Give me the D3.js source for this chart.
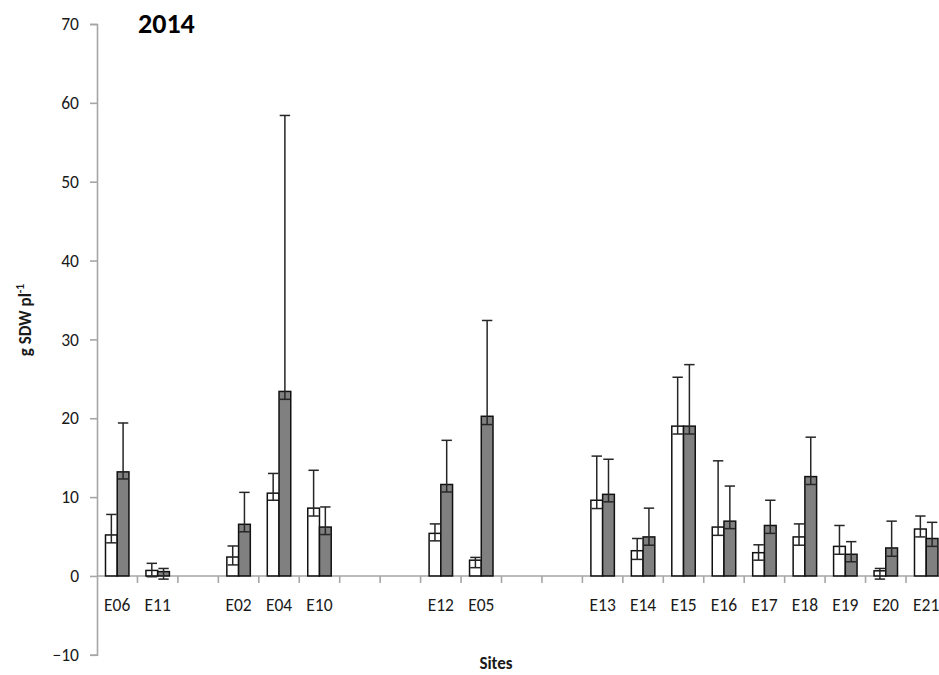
<!DOCTYPE html>
<html>
<head>
<meta charset="utf-8">
<script src="https://cdn.jsdelivr.net/npm/d3@7"></script>
<style>
  html, body { margin: 0; padding: 0; background: #fff; overflow: hidden; }
  svg { display: block; font-family: Carlito, Lato, "Open Sans", sans-serif; }
</style>
</head>
<body>
<svg id="chart" width="939" height="675"></svg>
<script>
// Sites along the x axis; empty strings are spacer slots between site groups
const sites = ["E06", "E11", "", "E02", "E04", "E10", "", "", "E12", "E05", "", "",
  "E13", "E14", "E15", "E16", "E17", "E18", "E19", "E20", "E21"];

// Shoot dry weight per plant (g), first (open) series
const seriesA = [5.2, 0.7, null, 2.4, 10.5, 8.6, null, null, 5.4, 2.0, null, null,
  9.6, 3.2, 19.0, 6.2, 2.95, 4.95, 3.75, 0.65, 5.95];
const seriesAPlus = [2.6, 0.9, null, 1.4, 2.5, 4.8, null, null, 1.2, 0.35, null, null,
  5.6, 1.55, 6.2, 8.4, 1.0, 1.65, 2.65, 0.3, 1.65];
const seriesAMinus = [1.0, 0.8, null, 1.0, 0.9, 1.0, null, null, 0.95, 0.95, null, null,
  1.05, 1.1, 1.0, 1.05, 0.95, 1.05, 1.0, 1.05, 1.0];

// Shoot dry weight per plant (g), second (filled) series
const seriesB = [13.2, 0.55, null, 6.55, 23.4, 6.2, null, null, 11.6, 20.25, null, null,
  10.35, 4.95, 19.0, 6.95, 6.4, 12.6, 2.75, 3.55, 4.75];
const seriesBPlus = [6.2, 0.4, null, 4.05, 35.0, 2.55, null, null, 5.6, 12.15, null, null,
  4.45, 3.65, 7.8, 4.45, 3.2, 5.0, 1.6, 3.4, 2.05];
const seriesBMinus = [0.9, 0.95, null, 0.95, 1.0, 0.95, null, null, 0.95, 1.05, null, null,
  0.95, 1.05, 1.0, 0.95, 1.0, 1.0, 0.95, 1.05, 1.0];

const yTicks = [-10, 0, 10, 20, 30, 40, 50, 60, 70];
const title = "2014";
const xTitle = "Sites";

const svg = d3.select("#chart");
const axisColor = "#a6a6a6";
const textColor = "#1a1a1a";

const plotLeft = 97;
const band = 40.45;
const x = d3.scaleBand()
  .domain(d3.range(sites.length))
  .range([plotLeft, plotLeft + band * sites.length])
  .paddingInner(0).paddingOuter(0);

const y = d3.scaleLinear().domain([-10, 70]).range([654.8, 24]);

const groupW = band * 0.58;
const barW = groupW / 2;

// y axis
const yAxis = d3.axisLeft(y).tickValues(yTicks).tickSize(7).tickPadding(11)
  .tickFormat(d3.format("d"));
const gy = svg.append("g").attr("transform", `translate(${plotLeft},0)`).call(yAxis);
gy.select(".domain").attr("stroke", axisColor).attr("stroke-width", 1.6);
gy.selectAll(".tick line").attr("stroke", axisColor).attr("stroke-width", 1.6);
gy.selectAll(".tick text").attr("fill", textColor).attr("font-size", 17.5)
  .attr("font-family", "Carlito, Lato, sans-serif");

// x axis along zero
const y0 = y(0);
svg.append("line")
  .attr("x1", plotLeft).attr("x2", x.range()[1])
  .attr("y1", y0).attr("y2", y0)
  .attr("stroke", axisColor).attr("stroke-width", 1.6);

svg.append("g").selectAll("line")
  .data(d3.range(1, sites.length + 1))
  .join("line")
  .attr("x1", i => plotLeft + band * i).attr("x2", i => plotLeft + band * i)
  .attr("y1", y0).attr("y2", y0 + 7)
  .attr("stroke", axisColor).attr("stroke-width", 1.6);

svg.append("g").selectAll("text")
  .data(sites.map((s, i) => ({ s, i })).filter(d => d.s))
  .join("text")
  .attr("x", d => x(d.i) + x.bandwidth() / 2)
  .attr("y", 611)
  .attr("text-anchor", "middle")
  .attr("fill", textColor)
  .attr("font-size", 17.5)
  .text(d => d.s);

// bars with error bars
const series = [
  { vals: seriesA, plus: seriesAPlus, minus: seriesAMinus, fill: "#ffffff", off: 0 },
  { vals: seriesB, plus: seriesBPlus, minus: seriesBMinus, fill: "#808080", off: 1 }
];

const barsG = svg.append("g");
series.forEach(s => {
  const rows = s.vals.map((v, i) => ({ v, i, p: s.plus[i], m: s.minus[i] }))
    .filter(d => d.v != null);
  const cx = d => x(d.i) + x.bandwidth() / 2 - groupW / 2 + s.off * barW;
  barsG.append("g").selectAll("rect").data(rows).join("rect")
    .attr("x", cx)
    .attr("y", d => y(d.v))
    .attr("width", barW)
    .attr("height", d => y0 - y(d.v))
    .attr("fill", s.fill)
    .attr("stroke", "#111")
    .attr("stroke-width", 1.5);

  const eb = barsG.append("g").attr("stroke", "#262626").attr("stroke-width", 1.5);
  const mid = d => cx(d) + barW / 2;
  const cap = 5.2;
  eb.selectAll("line.v").data(rows).join("line").attr("class", "v")
    .attr("x1", mid).attr("x2", mid)
    .attr("y1", d => y(d.v + d.p)).attr("y2", d => y(d.v - d.m));
  eb.selectAll("line.t").data(rows).join("line").attr("class", "t")
    .attr("x1", d => mid(d) - cap).attr("x2", d => mid(d) + cap)
    .attr("y1", d => y(d.v + d.p)).attr("y2", d => y(d.v + d.p));
  eb.selectAll("line.b").data(rows).join("line").attr("class", "b")
    .attr("x1", d => mid(d) - cap).attr("x2", d => mid(d) + cap)
    .attr("y1", d => y(d.v - d.m)).attr("y2", d => y(d.v - d.m));
});

// titles
svg.append("text")
  .attr("x", 138).attr("y", 32.5)
  .attr("font-size", 28).attr("font-weight", "bold").attr("fill", "#000")
  .text(title);

svg.append("text")
  .attr("x", 496).attr("y", 669)
  .attr("text-anchor", "middle")
  .attr("font-size", 17).attr("font-weight", "bold").attr("fill", textColor)
  .text(xTitle);

const yl = svg.append("text")
  .attr("transform", "translate(31,320) rotate(-90)")
  .attr("text-anchor", "middle")
  .attr("font-size", 17).attr("font-weight", "bold").attr("fill", textColor);
yl.append("tspan").text("g SDW pl");
yl.append("tspan").attr("dy", -7).attr("font-size", 11.5).text("-1");
</script>
</body>
</html>
